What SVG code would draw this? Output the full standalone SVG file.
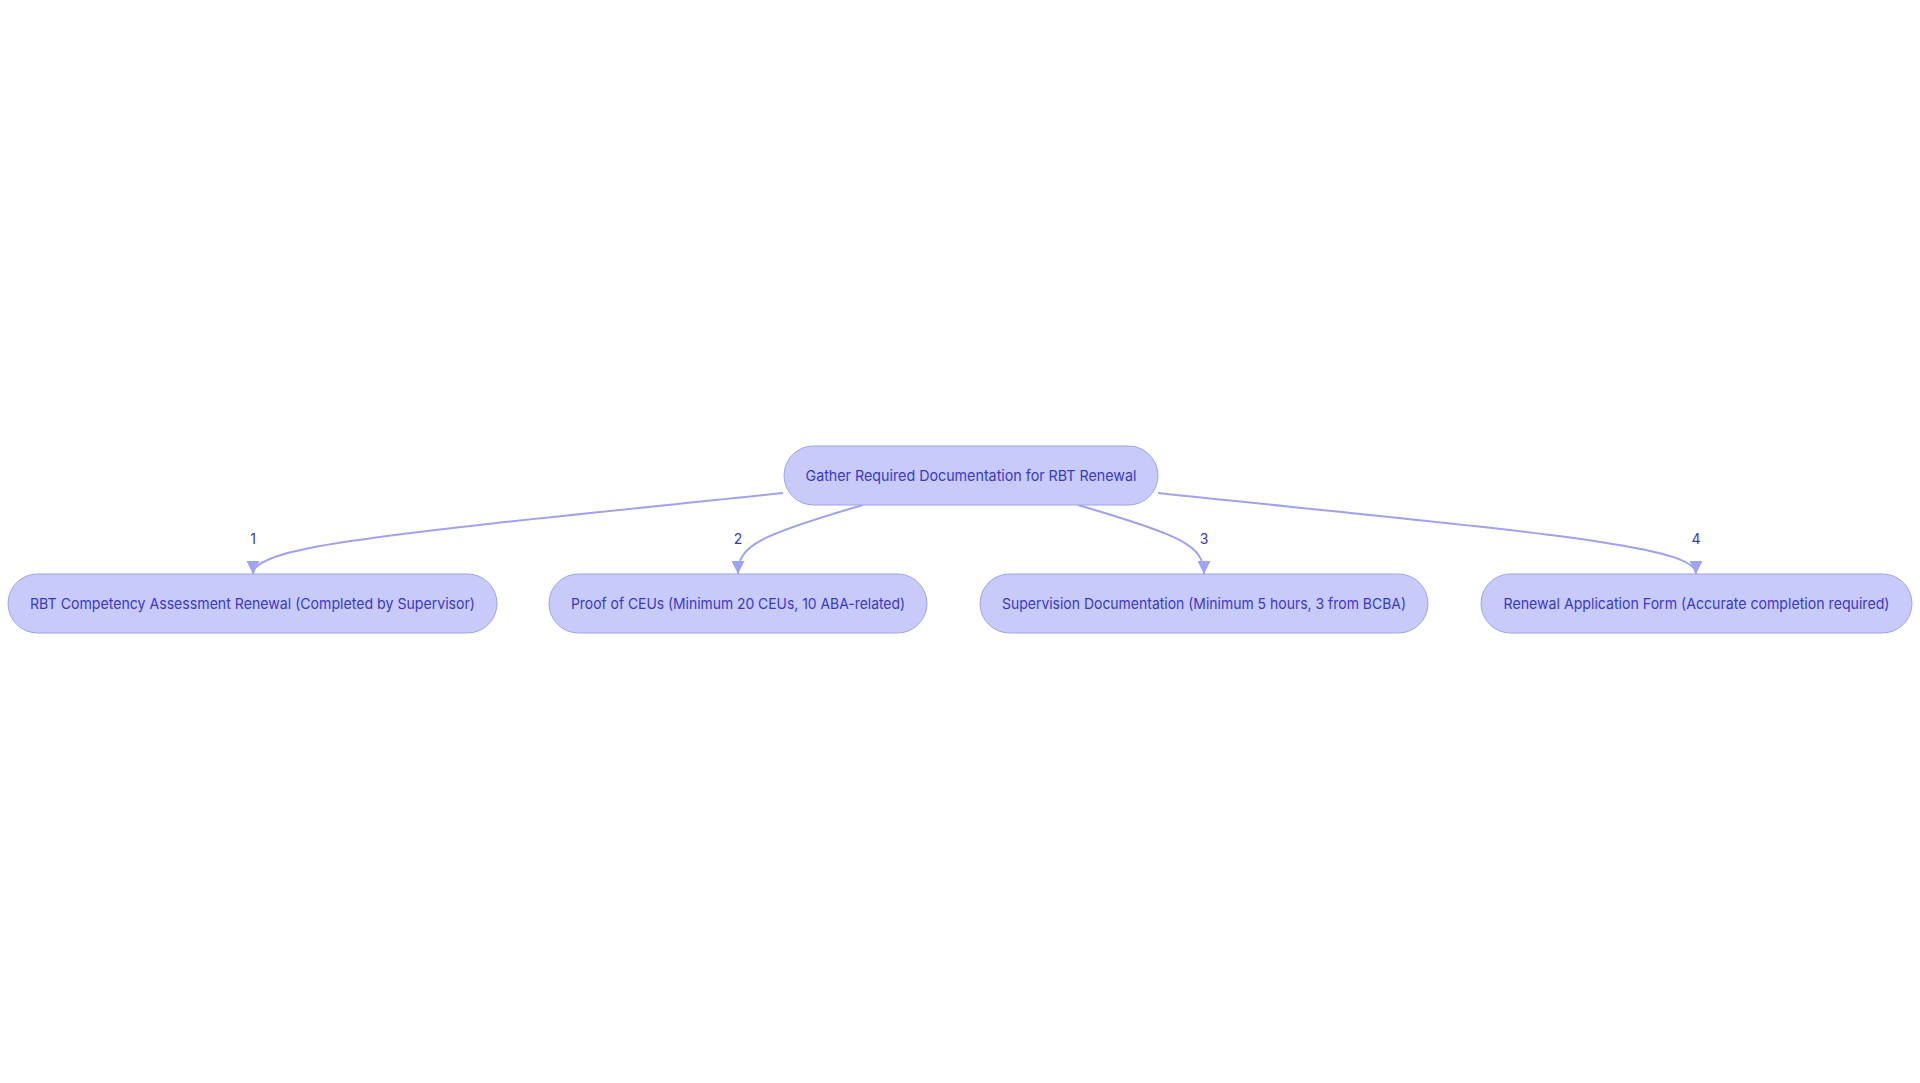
<svg xmlns="http://www.w3.org/2000/svg" width="1920" height="1083" viewBox="0 0 1920 1083">
<style>
.node rect{fill:#C8CAFA;stroke:#9EA2F0;stroke-width:1}
.node text{font-family:Inter,"Liberation Sans",sans-serif;font-size:15px;fill:#3838CC;text-anchor:middle;dominant-baseline:central}
.edge{fill:none;stroke:#9EA2F0;stroke-width:2}
.lbl{font-family:Inter,"Liberation Sans",sans-serif;font-size:14px;fill:#3838CC;text-anchor:middle;dominant-baseline:central}
</style>
<defs>
<marker id="arr" markerUnits="userSpaceOnUse" markerWidth="13" markerHeight="13" viewBox="0 0 10 10" refX="10" refY="5" orient="auto">
<path d="M0,0 L10,5 L0,10 z" fill="#9EA2F0"/>
</marker>
</defs>
<rect width="1920" height="1083" fill="#ffffff"/>
<g id="edges">
<path class="edge" d="M783,493 C400,533 253,545 253,574" marker-end="url(#arr)"/>
<path class="edge" d="M863,505 C760,535 738,545 738,574" marker-end="url(#arr)"/>
<path class="edge" d="M1078,505 C1180,535 1204,545 1204,574" marker-end="url(#arr)"/>
<path class="edge" d="M1158,493 C1540,533 1696,545 1696,574" marker-end="url(#arr)"/>
<text class="lbl" x="253" y="538">1</text>
<text class="lbl" x="738" y="538">2</text>
<text class="lbl" x="1204" y="538">3</text>
<text class="lbl" x="1696" y="538">4</text>
</g>
<g id="root" class="node">
<rect x="784" y="446" width="374" height="59" rx="29.5"/>
<text x="971" y="475.5" textLength="331" lengthAdjust="spacingAndGlyphs">Gather Required Documentation for RBT Renewal</text>
</g>
<g id="n1" class="node">
<rect x="8" y="574" width="489" height="59" rx="29.5"/>
<text x="252.5" y="603.5" textLength="445" lengthAdjust="spacingAndGlyphs">RBT Competency Assessment Renewal (Completed by Supervisor)</text>
</g>
<g id="n2" class="node">
<rect x="549" y="574" width="378" height="59" rx="29.5"/>
<text x="738" y="603.5" textLength="334" lengthAdjust="spacingAndGlyphs">Proof of CEUs (Minimum 20 CEUs, 10 ABA-related)</text>
</g>
<g id="n3" class="node">
<rect x="980" y="574" width="448" height="59" rx="29.5"/>
<text x="1204" y="603.5" textLength="404" lengthAdjust="spacingAndGlyphs">Supervision Documentation (Minimum 5 hours, 3 from BCBA)</text>
</g>
<g id="n4" class="node">
<rect x="1481" y="574" width="431" height="59" rx="29.5"/>
<text x="1696.5" y="603.5" textLength="386" lengthAdjust="spacingAndGlyphs">Renewal Application Form (Accurate completion required)</text>
</g>
</svg>
